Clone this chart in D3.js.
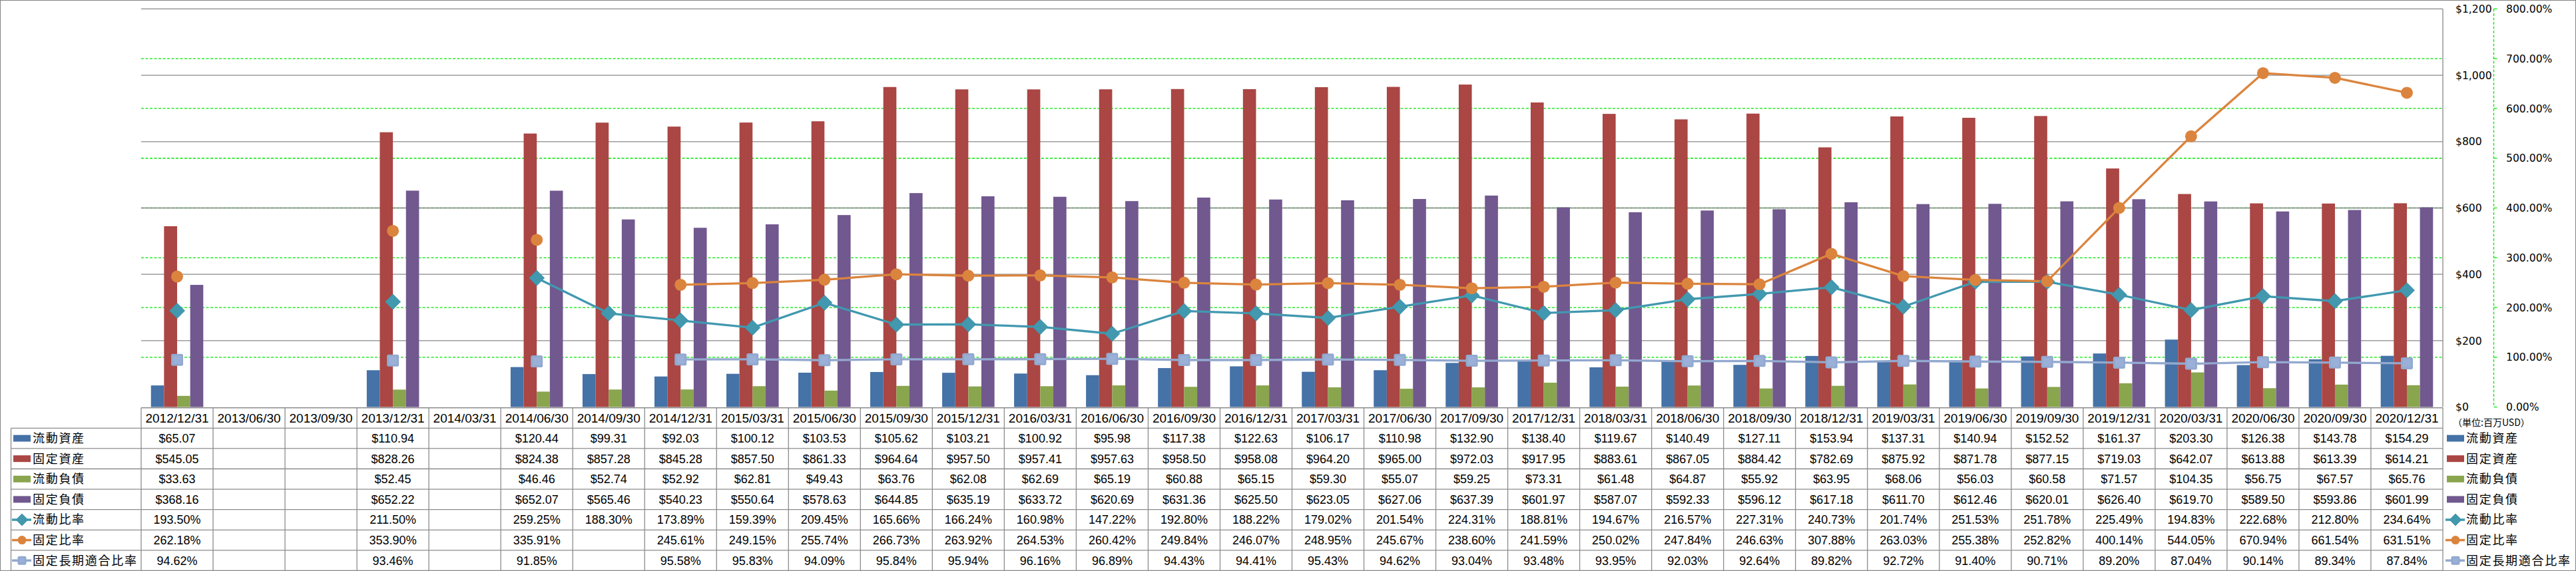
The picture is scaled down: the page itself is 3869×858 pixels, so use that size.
<!DOCTYPE html>
<html>
<head>
<meta charset="utf-8">
<script src="https://cdn.jsdelivr.net/npm/d3@7"></script>
<style>
  html, body { margin: 0; padding: 0; background: #fff; }
  svg { display: block; }
</style>
</head>
<body>
<script>
// ---------------- DATA ----------------
const categories = [
  "2012/12/31","2013/06/30","2013/09/30","2013/12/31","2014/03/31","2014/06/30","2014/09/30","2014/12/31",
  "2015/03/31","2015/06/30","2015/09/30","2015/12/31","2016/03/31","2016/06/30","2016/09/30","2016/12/31",
  "2017/03/31","2017/06/30","2017/09/30","2017/12/31","2018/03/31","2018/06/30","2018/09/30","2018/12/31",
  "2019/03/31","2019/06/30","2019/09/30","2019/12/31","2020/03/31","2020/06/30","2020/09/30","2020/12/31"
];
const currentAssets = [65.07,null,null,110.94,null,120.44,99.31,92.03,100.12,103.53,105.62,103.21,100.92,95.98,117.38,122.63,106.17,110.98,132.90,138.40,119.67,140.49,127.11,153.94,137.31,140.94,152.52,161.37,203.30,126.38,143.78,154.29];
const fixedAssets = [545.05,null,null,828.26,null,824.38,857.28,845.28,857.50,861.33,964.64,957.50,957.41,957.63,958.50,958.08,964.20,965.00,972.03,917.95,883.61,867.05,884.42,782.69,875.92,871.78,877.15,719.03,642.07,613.88,613.39,614.21];
const currentLiabilities = [33.63,null,null,52.45,null,46.46,52.74,52.92,62.81,49.43,63.76,62.08,62.69,65.19,60.88,65.15,59.30,55.07,59.25,73.31,61.48,64.87,55.92,63.95,68.06,56.03,60.58,71.57,104.35,56.75,67.57,65.76];
const fixedLiabilities = [368.16,null,null,652.22,null,652.07,565.46,540.23,550.64,578.63,644.85,635.19,633.72,620.69,631.36,625.50,623.05,627.06,637.39,601.97,587.07,592.33,596.12,617.18,611.70,612.46,620.01,626.40,619.70,589.50,593.86,601.99];
const currentRatio = [193.50,null,null,211.50,null,259.25,188.30,173.89,159.39,209.45,165.66,166.24,160.98,147.22,192.80,188.22,179.02,201.54,224.31,188.81,194.67,216.57,227.31,240.73,201.74,251.53,251.78,225.49,194.83,222.68,212.80,234.64];
const fixedRatio = [262.18,null,null,353.90,null,335.91,null,245.61,249.15,255.74,266.73,263.92,264.53,260.42,249.84,246.07,248.95,245.67,238.60,241.59,250.02,247.84,246.63,307.88,263.03,255.38,252.82,400.14,544.05,670.94,661.54,631.51];
const fixedLongTermRatio = [94.62,null,null,93.46,null,91.85,null,95.58,95.83,94.09,95.84,95.94,96.16,96.89,94.43,94.41,95.43,94.62,93.04,93.48,93.95,92.03,92.64,89.82,92.72,91.40,90.71,89.20,87.04,90.14,89.34,87.84];

const leftTicks = [0,200,400,600,800,1000,1200];
const rightTicks = [0,100,200,300,400,500,600,700,800];
const unitLabel = "（単位:百万USD）";

const barSeries = [
  {name:"流動資産", values:currentAssets, color:"#4572A7"},
  {name:"固定資産", values:fixedAssets, color:"#AA4643"},
  {name:"流動負債", values:currentLiabilities, color:"#89A54E"},
  {name:"固定負債", values:fixedLiabilities, color:"#71588F"}
];
const lineSeries = [
  {name:"流動比率", values:currentRatio, color:"#4198AF", marker:"diamond"},
  {name:"固定比率", values:fixedRatio, color:"#DB843D", marker:"circle"},
  {name:"固定長期適合比率", values:fixedLongTermRatio, color:"#93A9CF", marker:"square"}
];

// ---------------- LAYOUT ----------------
const W = 3869, H = 858;
const plotL = 212, plotR = 3669, plotT = 13.4, plotB = 611.6;
const headerTop = 612.7, rowTop = 643.3, rowH = 30.6;
const labelColL = 16.5;
const gridGray = "#888888", tableGray = "#8c8c8c", green = "#00e600";
const numFont = "'Liberation Sans', Arial, sans-serif";
const cjkFont = "'Noto Sans CJK JP', 'Noto Sans CJK SC', sans-serif";
const axisFont = "'DejaVu Sans', Verdana, sans-serif";

const svg = d3.select("body").append("svg").attr("width", W).attr("height", H);

// outer border
svg.append("rect").attr("x",0.5).attr("y",0.5).attr("width",W-1).attr("height",H-1)
  .attr("fill","#fff").attr("stroke","#8a8a8a").attr("stroke-width",1.2);

const x = d3.scaleBand().domain(categories).range([plotL, plotR]).padding(0);
const xSub = d3.scaleBand().domain(barSeries.map(s=>s.name)).range([0, x.bandwidth()])
  .paddingInner(0).paddingOuter(0.75);
const yL = d3.scaleLinear().domain([0,1200]).range([plotB, plotT]);
const yR = d3.scaleLinear().domain([0,800]).range([plotB, plotT]);
const cx = c => x(c) + x.bandwidth()/2;

// green dashed gridlines (secondary axis)
svg.append("g").selectAll("line").data(rightTicks.filter(t=>t>0 && t<800)).join("line")
  .attr("x1", plotL).attr("x2", plotR)
  .attr("y1", d=>yR(d)).attr("y2", d=>yR(d))
  .attr("stroke", green).attr("stroke-width", 1.3).attr("stroke-dasharray","4,2.5");

// gray gridlines (primary axis)
svg.append("g").selectAll("line").data(leftTicks.filter(t=>t>0)).join("line")
  .attr("x1", plotL).attr("x2", plotR)
  .attr("y1", d=>yL(d)).attr("y2", d=>yL(d))
  .attr("stroke", gridGray).attr("stroke-width", 1.3);

// bars
const barG = svg.append("g");
barSeries.forEach(s => {
  barG.append("g").selectAll("rect")
    .data(categories.map((c,i)=>({c, v:s.values[i]})).filter(d=>d.v!=null))
    .join("rect")
    .attr("x", d=>x(d.c)+xSub(s.name))
    .attr("width", xSub.bandwidth())
    .attr("y", d=>yL(d.v))
    .attr("height", d=>yL(0)-yL(d.v))
    .attr("fill", s.color);
});

// marker drawing helper
function drawMarker(g, type, color, px, py, size) {
  if (type === "diamond") {
    const h = size/2;
    g.append("path").attr("d", `M${px},${py-h}L${px+h},${py}L${px},${py+h}L${px-h},${py}Z`)
      .attr("fill", color).attr("stroke", d3.color(color).darker(0.2)).attr("stroke-width",0.8)
      .attr("stroke-linejoin","round");
  } else if (type === "circle") {
    g.append("circle").attr("cx",px).attr("cy",py).attr("r",size/2).attr("fill",color);
  } else {
    g.append("rect").attr("x",px-size/2).attr("y",py-size/2).attr("width",size).attr("height",size)
      .attr("rx",2.5).attr("fill",color);
    g.append("rect").attr("x",px-size/2+3).attr("y",py-size/2+3).attr("width",size-6).attr("height",size-6)
      .attr("fill", d3.color(color).brighter(0.2)).attr("opacity",0.6);
  }
}
const markerSize = {diamond:23, circle:18, square:18};

// lines
const lineG = svg.append("g");
lineSeries.forEach(s => {
  const pts = categories.map((c,i)=>({c, v:s.values[i]}));
  const line = d3.line().defined(d=>d.v!=null).x(d=>cx(d.c)).y(d=>yR(d.v));
  lineG.append("path").attr("d", line(pts)).attr("fill","none")
    .attr("stroke", s.color).attr("stroke-width", 3.3)
    .attr("stroke-linejoin","round").attr("stroke-linecap","round");
});
lineSeries.forEach(s => {
  const g = lineG.append("g");
  categories.forEach((c,i) => {
    const v = s.values[i];
    if (v == null) return;
    drawMarker(g, s.marker, s.color, cx(c), yR(v), markerSize[s.marker]);
  });
});

// primary axis (right) line and labels
svg.append("line").attr("x1",plotR).attr("x2",plotR).attr("y1",plotT).attr("y2",plotB)
  .attr("stroke",gridGray).attr("stroke-width",1.3);
svg.append("g").selectAll("text").data(leftTicks).join("text")
  .attr("x", 3688).attr("y", d=>yL(d)).attr("dy","0.36em")
  .attr("font-family", axisFont).attr("font-size", 15.6).attr("fill","#000")
  .text(d=>d3.format("$,")(d));

// secondary axis: green dashed line with ticks
const axX = 3745.5;
svg.append("line").attr("x1",axX).attr("x2",axX).attr("y1",plotT).attr("y2",plotB)
  .attr("stroke",green).attr("stroke-width",1.3).attr("stroke-dasharray","4,2.5");
svg.append("g").selectAll("line").data(rightTicks).join("line")
  .attr("x1",axX).attr("x2",axX+5).attr("y1",d=>yR(d)).attr("y2",d=>yR(d))
  .attr("stroke",green).attr("stroke-width",1.3);
svg.append("g").selectAll("text").data(rightTicks).join("text")
  .attr("x", 3764).attr("y", d=>yR(d)).attr("dy","0.36em")
  .attr("font-family", axisFont).attr("font-size", 15.6).attr("fill","#000")
  .text(d=>d.toFixed(2)+"%");

// ---------------- DATA TABLE ----------------
const tableRows = [
  ...barSeries.map(s=>({name:s.name, values:s.values, color:s.color, kind:"bar", fmt:v=>"$"+d3.format(",.2f")(v)})),
  ...lineSeries.map(s=>({name:s.name, values:s.values, color:s.color, kind:"line", marker:s.marker, fmt:v=>v.toFixed(2)+"%"}))
];
const tbl = svg.append("g");
const tableBottom = rowTop + rowH*tableRows.length;

// x axis / header top line
tbl.append("line").attr("x1",plotL).attr("x2",plotR).attr("y1",headerTop).attr("y2",headerTop)
  .attr("stroke",tableGray).attr("stroke-width",1.4);
// horizontal row lines
tbl.selectAll("line.h").data(d3.range(tableRows.length+1)).join("line").attr("class","h")
  .attr("x1",labelColL).attr("x2",plotR)
  .attr("y1",k=>rowTop+rowH*k).attr("y2",k=>rowTop+rowH*k)
  .attr("stroke",tableGray).attr("stroke-width",1.3);
// vertical column lines
tbl.selectAll("line.v").data(d3.range(categories.length+1)).join("line").attr("class","v")
  .attr("x1",i=>plotL+x.step()*i).attr("x2",i=>plotL+x.step()*i)
  .attr("y1",headerTop).attr("y2",tableBottom)
  .attr("stroke",tableGray).attr("stroke-width",1.3);
tbl.append("line").attr("x1",labelColL).attr("x2",labelColL).attr("y1",rowTop).attr("y2",tableBottom)
  .attr("stroke",tableGray).attr("stroke-width",1.3);

// header labels
tbl.selectAll("text.hd").data(categories).join("text").attr("class","hd")
  .attr("x", c=>cx(c)).attr("y", (headerTop+rowTop)/2).attr("dy","0.36em")
  .attr("text-anchor","middle").attr("font-family",numFont).attr("font-size",19).attr("fill","#000")
  .text(c=>c);

// legend key helper
function drawKey(g, r, x0, x1, yc) {
  if (r.kind === "bar") {
    g.append("rect").attr("x",x0).attr("y",yc-5).attr("width",x1-x0).attr("height",10).attr("fill",r.color);
  } else {
    g.append("line").attr("x1",x0-2).attr("x2",x1+1).attr("y1",yc).attr("y2",yc)
      .attr("stroke",r.color).attr("stroke-width",3.5);
    const sz = {diamond:18, circle:13, square:13}[r.marker];
    drawMarker(g, r.marker, r.color, (x0+x1)/2, yc, sz);
  }
}

tableRows.forEach((r,k) => {
  const yc = rowTop + rowH*k + rowH/2;
  drawKey(tbl, r, 20, 46, yc);
  tbl.append("text").attr("x",49).attr("y",yc).attr("dy","0.36em")
    .attr("font-family",cjkFont).attr("font-size",18).attr("letter-spacing","1.7px").attr("fill","#000")
    .text(r.name);
  tbl.append("g").selectAll("text")
    .data(categories.map((c,i)=>({c, v:r.values[i]})).filter(d=>d.v!=null))
    .join("text")
    .attr("x", d=>cx(d.c)).attr("y", yc).attr("dy","0.36em")
    .attr("text-anchor","middle").attr("font-family",numFont).attr("font-size",18).attr("fill","#000")
    .text(d=>r.fmt(d.v));
});

// ---------------- RIGHT LEGEND ----------------
const leg = svg.append("g");
leg.append("text").attr("x",3684).attr("y",635).attr("dy","0.36em")
  .attr("font-family",cjkFont).attr("font-size",14).attr("fill","#000").text(unitLabel);
tableRows.forEach((r,k) => {
  const yc = rowTop + rowH*k + rowH/2;
  drawKey(leg, r, 3675, 3701, yc);
  leg.append("text").attr("x",3704).attr("y",yc).attr("dy","0.36em")
    .attr("font-family",cjkFont).attr("font-size",18).attr("letter-spacing","1.7px").attr("fill","#000")
    .text(r.name);
});
</script>
</body>
</html>
